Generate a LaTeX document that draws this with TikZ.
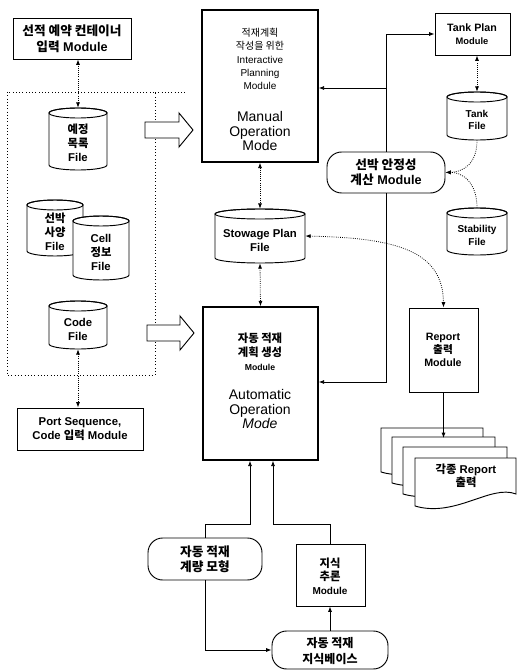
\documentclass[tikz,border=0pt]{standalone}
\usepackage{fontspec}
\setmainfont{Liberation Sans}
\newfontfamily\kr{Noto Sans CJK KR}
\usetikzlibrary{arrows.meta}
\newcommand\K[1]{{\kr #1}}
\newcommand\fs[2]{\fontsize{#1}{#2}\selectfont}
% cylinder: name, cx, top, bottom, half width, text
\newcommand\cyl[6]{%
  \path[draw,fill=white,line width=0.7pt] ({#2-#5},{#3+5}) -- ({#2-#5},{#4-5})
     arc[start angle=180,end angle=0,x radius=#5,y radius=5]
     -- ({#2+#5},{#3+5}) arc[start angle=0,end angle=-180,x radius=#5,y radius=5] -- cycle;
  \draw[line width=0.7pt] (#2,{#3+5}) ellipse[x radius=#5,y radius=5];
  \node[inner sep=0,minimum width={1.5pt*(#5)},minimum height={0.75pt*(#4-#3)}] (#1) at (#2,{(#3+#4)/2}) {};
  \node[cyllbl] (#1t) at (#2,{(#3+#4)/2+4}) {#6};
}
% box: style, name, x1, y1, x2, y2
\newcommand\rbox[6]{\node[#1,minimum width={0.75pt*(#5-#3)},minimum height={0.75pt*(#6-#4)}] (#2) at ({(#3+#5)/2},{(#4+#6)/2}) {};}
% document: L T W H
\newcommand\docshape[4]{\path[draw,fill=white,line width=0.7pt] (#1,#2) -- ({#1+#3},#2) -- ({#1+#3},{#2+#4-12})
  .. controls ({#1+0.75*#3},{#2+#4-22}) and ({#1+0.4*#3},{#2+#4+12}) .. (#1,{#2+#4}) -- cycle;}
\begin{document}
\begin{tikzpicture}[x=0.75pt,y=-0.75pt,
  lbl/.style={align=center,inner sep=0,font=\bfseries\fs{7.5}{9.5}},
  biglbl/.style={align=center,inner sep=0,font=\bfseries\fs{8.5}{10.5}},
  cyllbl/.style={lbl},
  txt/.style={align=center,inner sep=0},
  box/.style={draw,fill=white,line width=0.7pt,inner sep=0},
  bigbox/.style={draw,fill=white,line width=1.1pt,inner sep=0},
  term/.style={draw,fill=white,line width=0.7pt,rounded corners=11pt,inner sep=0},
  arr/.style={line width=0.6pt,-{Latex[length=4pt,width=3pt]}},
  darr/.style={line width=0.6pt,densely dotted,{Latex[length=4pt,width=3pt]}-{Latex[length=4pt,width=3pt]}},
  dotarr/.style={line width=0.6pt,densely dotted,-{Latex[length=4pt,width=3pt]}},
  frame/.style={line width=0.45pt,dotted},
  blockarr/.style={draw,line width=0.7pt,fill=white}]
\useasboundingbox (0,0) rectangle (517,670);

% left frame
\draw[frame] (7,92) rectangle (155,375);
\draw[frame] (155,92) -- (185,92);

% top-left module
\rbox{box}{b1}{13}{18}{131}{59}
\node[txt,font=\bfseries\fs{9.5}{12}] (b1t) at (72,39) {\K{선적 예약 컨테이너}\\\K{입력} Module};

% files in the left column
\begin{scope}[cyllbl/.style={biglbl}]
\cyl{cyj}{78}{108}{170}{29}{\K{예정}\\\K{목록}\\File}
\cyl{csb}{55}{200}{256}{28}{\K{선박}\\\K{사양}\\File}
\cyl{ccl}{101}{216}{280}{28}{Cell\\\K{정보}\\File}
\cyl{ccd}{78}{301}{349}{29}{Code\\File}
\end{scope}

\draw[darr] (cyj.north) -- (cyj.north |- b1.south);

% port sequence module
\rbox{box}{ps}{17}{408}{143}{450}
\node[txt,font=\bfseries\fs{8.5}{10.5}] (pst) at (80,429) {Port Sequence,\\Code \K{입력} Module};
\draw[darr] (ccd.south) -- (ccd.south |- ps.north);

% block arrows
\draw[blockarr] (145,122) -- (179,122) -- (179,113) -- (193,130) -- (179,147) -- (179,138) -- (145,138) -- cycle;
\draw[blockarr] (147,325) -- (180,325) -- (180,316) -- (194,333) -- (180,350) -- (180,341) -- (147,341) -- cycle;

% manual operation mode
\rbox{bigbox}{man}{202}{10}{318}{162}
\node[txt,font=\fs{7.5}{10}] (mant1) at (260,59) {\K{적재계획}\\\K{작성을 위한}\\Interactive\\Planning\\Module};
\node[txt,font=\fs{10.5}{11}] (mant2) at (260,131) {Manual\\Operation\\Mode};

% stowage plan file
\begin{scope}[cyllbl/.style={biglbl}]
\cyl{csp}{260}{209}{263}{45}{Stowage Plan\\File}
\end{scope}

% automatic operation mode
\rbox{bigbox}{auto}{203}{307}{318}{460}
\node[txt,font=\bfseries\fs{8.5}{10.5}] (aut1) at (260,352) {\K{자동 적재}\\\K{계획 생성}\\{\fs{6.5}{8}Module}};
\node[txt,font=\fs{10.5}{11}] (aut2) at (260,409) {Automatic\\Operation\\\textit{Mode}};

\draw[darr] (man.south) -- (csp.north);
\draw[darr] (csp.south) -- (auto.north);

% right column
\rbox{box}{tp}{435}{13}{510}{55}
\node[txt,font=\bfseries\fs{8}{10}] (tpt) at (472,34) {Tank Plan\\{\fs{7}{9}Module}};
\cyl{ctk}{477}{92}{140}{30}{Tank\\File}
\cyl{cst}{477}{208}{255}{30}{Stability\\File}
\draw[darr] (ctk.north) -- (ctk.north |- tp.south);

\rbox{term}{stab}{327}{152}{445}{193}
\node[txt,font=\bfseries\fs{9.5}{11.5}] (stabt) at (386,172) {\K{선박 안정성}\\\K{계산} Module};

\coordinate (jm) at (0,88);
\coordinate (ja) at (0,382);
\draw[arr] (stab.north) |- (tp.west);
\draw[arr] (stab.north |- jm) -- (jm -| man.east);
\draw[arr] (stab.south) |- (ja -| auto.east);

\draw[dotarr] (ctk.south) .. controls (477,165) and (462,172) .. (stab.east);
\draw[dotarr] (cst.north) .. controls (477,182) and (462,172) .. (stab.east);

% report module
\rbox{box}{rep}{409}{308}{478}{392}
\node[txt,font=\bfseries\fs{8}{10}] (rept) at (443,350) {Report\\\K{출력}\\Module};
\draw[darr] (csp.east) .. controls (395,238) and (443,250) .. (rep.north);

% document stack
\docshape{381}{428}{102}{44}
\docshape{392}{437}{103}{46}
\docshape{403}{447}{104}{47}
\docshape{415}{458}{101}{48}
\node[txt,font=\bfseries\fs{8.5}{10}] (dt) at (466,476) {\K{각종} Report\\\K{출력}};
\coordinate (dtop) at (0,438);
\draw[arr] (rep.south) -- (rep.south |- dtop);

% bottom part
\rbox{term}{mo}{148}{538}{262}{580}
\node[txt,font=\bfseries\fs{9.5}{11.5}] (mot) at (205,559) {\K{자동 적재}\\\K{계량 모형}};
\rbox{box}{ch}{296}{544}{365}{606}
\node[txt,font=\bfseries\fs{8.5}{10}] (cht) at (330,576) {\K{지식}\\\K{추론}\\{\fs{7.5}{10}Module}};
\rbox{term}{kb}{272}{631}{388}{669}
\node[txt,font=\bfseries\fs{9}{11.5}] (kbt) at (330,651) {\K{자동 적재}\\\K{지식베이스}};

\coordinate (m1) at (250,524);
\coordinate (m2) at (273,524);
\draw[arr] (mo.north) |- (m1) -- (m1 |- auto.south);
\draw[arr] (ch.north) |- (m2) -- (m2 |- auto.south);
\draw[arr] (mo.south) |- (kb.west);
\draw[arr] (kb.north) -- (kb.north |- ch.south);
\end{tikzpicture}
\end{document}
